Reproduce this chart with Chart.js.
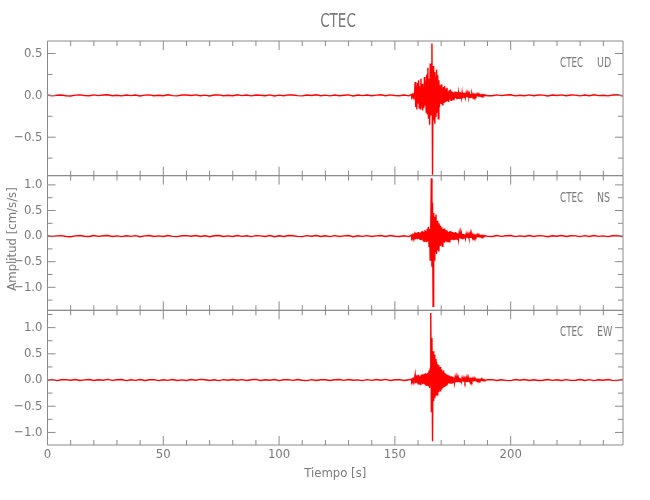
<!DOCTYPE html>
<html>
<head>
<meta charset="utf-8">
<script src="https://cdn.jsdelivr.net/npm/chart.js@4"></script>
<style>
  body { margin: 0; background: #fff; }
  canvas { display: block; }
</style>
</head>
<body>
<canvas id="sismograma" width="650" height="500"></canvas>
<script>
// estacion y componentes
const estacion = 'CTEC';
const componentes = ['UD', 'NS', 'EW'];
const marcasTiempo = [0, 50, 100, 150, 200];

// tiempo [s]: ruido previo cada 2 s, evento cada 0.25 s, coda cada 2 s
const tiempo = [
  0,2,4,6,8,10,12,14,16,18,20,22,24,26,28,30,32,34,36,38,
  40,42,44,46,48,50,52,54,56,58,60,62,64,66,68,70,72,74,76,78,
  80,82,84,86,88,90,92,94,96,98,100,102,104,106,108,110,112,114,116,118,
  120,122,124,126,128,130,132,134,136,138,140,142,144,146,148,150,152,154,156,
  157,157.25,157.5,157.75,158,158.25,158.5,158.75,
  159,159.25,159.5,159.75,160,160.25,160.5,160.75,
  161,161.25,161.5,161.75,162,162.25,162.5,162.75,
  163,163.25,163.5,163.75,164,164.25,164.5,164.75,
  165,165.25,165.5,165.75,166,166.25,166.5,166.75,
  167,167.25,167.5,167.75,168,168.25,168.5,168.75,
  169,169.25,169.5,169.75,170,170.25,170.5,170.75,
  171,171.25,171.5,171.75,172,172.25,172.5,172.75,
  173,173.25,173.5,173.75,174,174.25,174.5,174.75,
  175,175.25,175.5,175.75,176,176.25,176.5,176.75,
  177,177.25,177.5,177.75,178,178.25,178.5,178.75,
  179,179.25,179.5,179.75,180,180.25,180.5,180.75,
  181,181.25,181.5,181.75,182,182.25,182.5,182.75,
  183,183.25,183.5,183.75,184,184.25,184.5,184.75,
  185,185.25,185.5,185.75,186,186.25,186.5,186.75,
  187,187.25,187.5,187.75,188,188.25,188.5,188.75,
  190,192,194,196,198,200,202,204,206,208,210,212,214,216,218,220,
  222,224,226,228,230,232,234,236,238,240,242,244,246,248,250
];

// amplitud [cm/s/s] por componente
const ampUD = [
  0.004,-0.006,0.002,0.005,-0.004,-0.007,0.003,0.006,-0.002,-0.005,
  0.006,-0.003,0.004,0.007,-0.005,0.002,-0.006,0.004,-0.003,0.005,
  -0.007,0.003,0.006,-0.004,0.002,-0.005,0.007,-0.003,-0.006,0.004,
  0.005,-0.002,0.006,-0.005,0.003,-0.007,0.004,0.006,-0.004,0.002,
  -0.005,0.007,-0.003,0.004,-0.006,0.005,0.002,-0.004,0.006,-0.007,
  0.003,-0.005,0.006,0.004,-0.003,-0.006,0.005,-0.002,0.007,-0.004,
  0.003,-0.006,0.005,-0.004,0.002,0.006,-0.007,0.004,-0.003,0.005,
  -0.005,0.003,0.007,-0.004,0.006,-0.002,-0.005,0.004,-0.006,
  // evento
  0.008,-0.01,0.012,-0.006,0.009,-0.011,0.01,
  0.16,-0.14,0.12,-0.17,0.15,-0.09,0.18,-0.15,0.11,-0.16,
  0.2,-0.13,0.14,-0.18,0.1,-0.15,0.22,-0.12,0.17,-0.2,
  0.25,-0.22,0.33,-0.28,0.2,-0.35,0.38,-0.24,0.3,
  0.62,-0.95,
  0.35,-0.3,0.28,-0.34,0.22,-0.26,0.31,-0.2,0.24,-0.28,0.18,
  -0.14,0.12,-0.1,0.13,-0.11,0.09,-0.12,0.1,-0.08,0.11,
  -0.07,0.08,-0.06,0.09,-0.07,0.05,-0.08,0.06,-0.05,0.07,-0.06,0.05,
  -0.045,0.04,-0.05,0.035,-0.04,0.045,-0.03,0.04,-0.045,0.035,
  -0.04,0.03,-0.035,0.04,-0.03,0.035,-0.025,0.03,-0.035,0.025,
  0.02,-0.025,0.03,-0.02,0.025,-0.018,0.022,-0.025,0.02,-0.015,
  0.018,-0.022,0.015,-0.02,0.018,-0.012,
  0.012,-0.01,0.009,-0.012,0.008,-0.007,0.01,-0.006,0.008,-0.007,
  0.006,-0.008,0.005,-0.006,0.007,-0.004,0.006,-0.005,0.004,-0.006,0.005,
  // coda
  -0.004,-0.005,0.006,-0.003,0.004,0.007,-0.006,0.002,-0.005,0.006,-0.004,
  0.005,0.003,-0.007,0.004,-0.002,0.006,-0.005,0.004,0.003,-0.006,
  0.005,-0.004,0.007,-0.003,0.002,-0.006,0.004,0.008,-0.005,0.003
];

const ampNS = [
  0.007,-0.01,0.004,0.009,-0.007,-0.012,0.005,0.01,-0.004,-0.009,
  0.01,-0.005,0.007,0.012,-0.009,0.004,-0.01,0.007,-0.005,0.009,
  -0.012,0.005,0.01,-0.007,0.004,-0.009,0.012,-0.005,-0.01,0.007,
  0.009,-0.004,0.01,-0.009,0.005,-0.012,0.007,0.01,-0.007,0.004,
  -0.009,0.012,-0.005,0.007,-0.01,0.009,0.004,-0.007,0.01,-0.012,
  0.005,-0.009,0.01,0.007,-0.005,-0.01,0.009,-0.004,0.012,-0.007,
  0.005,-0.01,0.009,-0.007,0.004,0.01,-0.012,0.007,-0.005,0.009,
  -0.009,0.005,0.012,-0.007,0.01,-0.004,-0.009,0.007,-0.01,
  // evento
  0.015,-0.02,0.018,-0.015,0.02,-0.018,0.03,
  -0.05,0.07,-0.04,0.06,-0.06,0.08,-0.05,0.07,-0.07,0.06,
  -0.08,0.09,-0.06,0.1,-0.09,0.08,-0.1,0.12,-0.08,0.1,
  -0.12,0.15,-0.1,0.18,-0.2,0.14,-0.47,0.2,
  1.13,-0.6,0.65,-1.37,
  0.45,-0.47,0.38,-0.3,0.42,-0.35,0.3,-0.28,0.25,-0.3,
  0.22,-0.18,0.2,-0.15,0.17,-0.2,0.14,-0.12,0.15,-0.13,
  0.12,-0.1,0.11,-0.12,0.09,-0.1,0.08,-0.11,0.1,-0.08,0.09,-0.07,
  0.08,-0.07,0.06,-0.08,0.07,-0.06,0.08,-0.05,0.06,-0.07,
  0.05,-0.06,0.05,-0.04,0.06,-0.05,0.04,-0.05,0.04,-0.04,
  0.04,-0.035,0.03,-0.04,0.035,-0.03,0.03,-0.035,0.025,-0.03,
  0.03,-0.025,0.028,-0.022,0.025,-0.028,
  0.02,-0.018,0.016,-0.02,0.014,-0.012,0.016,-0.01,0.012,-0.014,
  0.01,-0.012,0.009,-0.011,0.01,-0.008,0.01,-0.009,0.007,-0.01,0.008,
  // coda
  -0.006,-0.009,0.01,-0.005,0.007,0.012,-0.01,0.004,-0.009,0.01,-0.007,
  0.009,0.005,-0.012,0.007,-0.004,0.01,-0.009,0.007,0.005,-0.01,
  0.009,-0.007,0.012,-0.005,0.004,-0.01,0.007,0.012,-0.009,0.005
];

const ampEW = [
  -0.006,0.009,-0.011,0.004,0.008,-0.005,0.011,-0.008,0.003,0.01,
  -0.009,0.006,-0.004,0.012,-0.007,0.005,0.009,-0.011,0.004,-0.006,
  0.01,-0.008,0.005,0.007,-0.012,0.004,-0.006,0.011,-0.009,0.003,
  -0.008,0.01,-0.005,0.012,0.006,-0.009,0.004,-0.011,0.008,-0.005,
  0.011,-0.004,0.007,-0.01,0.005,0.012,-0.008,0.006,-0.003,0.009,
  -0.011,0.005,0.008,-0.006,0.01,-0.004,-0.012,0.007,-0.009,0.005,
  0.006,-0.01,0.004,0.011,-0.007,0.009,-0.005,0.003,-0.011,0.008,
  -0.006,0.01,-0.004,0.012,-0.008,0.005,0.007,-0.01,0.004,
  // evento
  0.015,-0.02,0.018,-0.012,0.02,-0.015,0.025,
  0.1,-0.06,0.08,-0.05,0.09,-0.07,0.1,-0.06,0.07,-0.08,
  0.09,-0.06,0.11,-0.08,0.1,-0.07,0.12,-0.09,0.13,-0.1,
  0.12,-0.09,0.14,-0.12,0.18,-0.15,0.22,1.28,
  -0.6,0.8,-1.17,0.55,
  -0.4,0.48,-0.35,0.4,-0.3,0.35,-0.28,0.3,-0.22,0.28,
  -0.2,0.25,-0.22,0.2,-0.18,0.16,-0.15,0.18,-0.12,0.14,
  -0.1,0.12,-0.09,0.1,-0.08,0.09,-0.06,0.08,-0.07,0.06,-0.06,0.07,
  -0.05,0.06,-0.04,0.05,-0.05,0.04,-0.04,0.05,-0.035,0.04,
  -0.04,0.035,-0.03,0.04,-0.035,0.03,-0.03,0.035,-0.025,0.03,
  -0.03,0.025,-0.028,0.022,-0.025,0.02,-0.022,0.025,-0.018,0.02,
  -0.022,0.018,-0.02,0.016,-0.018,0.02,
  -0.016,0.014,-0.012,0.015,-0.011,0.012,-0.01,0.013,-0.009,0.011,
  -0.01,0.008,-0.011,0.009,-0.007,0.01,-0.008,0.007,-0.009,0.006,-0.008,
  // coda
  0.006,0.008,-0.01,0.005,-0.007,-0.011,0.009,-0.004,0.01,-0.008,0.006,
  -0.009,-0.005,0.011,-0.007,0.004,-0.01,0.008,-0.006,-0.004,0.01,
  -0.009,0.007,-0.012,0.005,-0.004,0.01,-0.007,-0.011,0.009,-0.005
];

// rangos de cada panel
const rangoUD = [-0.96, 0.65];
const rangoNS = [-1.45, 1.18];
const rangoEW = [-1.24, 1.33];
const rangoTiempo = [0, 248.5];

const gris = '#7a7a7a';
const rojo = '#ff0000';
const fuente = "'DejaVu Sans Condensed', 'Liberation Sans Narrow', sans-serif";
Chart.defaults.font.family = fuente;
Chart.defaults.color = gris;

function puntos(amp) {
  return tiempo.map((t, i) => ({ x: t, y: amp[i] }));
}

function serie(nombre, amp, eje) {
  return {
    label: nombre, data: puntos(amp), yAxisID: eje,
    borderColor: rojo, borderWidth: 1.4, pointRadius: 0, tension: 0, fill: false
  };
}

function ejeY(rango) {
  return {
    type: 'linear', position: 'left', stack: 'sismo', stackWeight: 1,
    min: rango[0], max: rango[1],
    grid: { display: false, drawTicks: false },
    border: { display: false },
    ticks: {
      stepSize: 0.5, includeBounds: false, autoSkip: false, padding: 5, font: { size: 13 },
      callback: v => (v < 0 ? '\u2212' : '') + Math.abs(v).toFixed(1)
    },
    afterFit: s => { s.width = 40; }
  };
}

// texto angosto, parecido a la fuente del original
function textoAngosto(ctx, texto, x, y, escala) {
  ctx.save();
  ctx.translate(x, y);
  ctx.scale(escala, 1);
  ctx.fillText(texto, 0, 0);
  ctx.restore();
}

// marco, marcas hacia adentro y textos
const marcas = {
  id: 'marcas',
  afterDraw(chart) {
    const ctx = chart.ctx;
    const x = chart.scales.x;
    const ejes = ['yUD', 'yNS', 'yEW'];
    ctx.save();
    ctx.strokeStyle = '#8a8a8a';
    ctx.lineWidth = 1;
    ejes.forEach((id, k) => {
      const y = chart.scales[id];
      ctx.beginPath();
      ctx.rect(x.left, y.top, x.right - x.left, y.bottom - y.top);
      for (let v = 0; v <= rangoTiempo[1]; v += 10) {
        const px = x.getPixelForValue(v);
        const l = v % 50 === 0 ? 9 : 5;
        ctx.moveTo(px, y.top); ctx.lineTo(px, y.top + l);
        ctx.moveTo(px, y.bottom); ctx.lineTo(px, y.bottom - l);
      }
      for (let v = Math.ceil(y.min / 0.25) * 0.25; v <= y.max; v += 0.25) {
        const py = y.getPixelForValue(v);
        const l = Math.abs(v / 0.5 - Math.round(v / 0.5)) < 1e-6 ? 8 : 5;
        ctx.moveTo(x.left, py); ctx.lineTo(x.left + l, py);
        ctx.moveTo(x.right, py); ctx.lineTo(x.right - l, py);
      }
      ctx.stroke();

      ctx.fillStyle = gris;
      ctx.font = '14px ' + fuente;
      ctx.textBaseline = 'alphabetic';
      ctx.textAlign = 'left';
      textoAngosto(ctx, estacion, 560, y.top + 26, 0.7);
      textoAngosto(ctx, componentes[k], 597, y.top + 26, 0.75);
    });

    ctx.fillStyle = gris;
    ctx.textAlign = 'center';
    ctx.textBaseline = 'middle';
    ctx.font = '20px ' + fuente;
    textoAngosto(ctx, estacion, 338, 22, 0.75);

    ctx.font = '13px ' + fuente;
    ctx.translate(13, 239);
    ctx.rotate(-Math.PI / 2);
    ctx.fillText('Amplitud [cm/s/s]', 0, 0);
    ctx.restore();
  }
};

const ctx = document.getElementById('sismograma').getContext('2d');
new Chart(ctx, {
  type: 'line',
  data: {
    datasets: [
      serie('UD', ampUD, 'yUD'),
      serie('NS', ampNS, 'yNS'),
      serie('EW', ampEW, 'yEW')
    ]
  },
  options: {
    responsive: false,
    animation: false,
    layout: { padding: { left: 7.5, right: 27, top: 41, bottom: 15 } },
    plugins: { legend: { display: false }, tooltip: { enabled: false } },
    scales: {
      x: {
        type: 'linear', min: rangoTiempo[0], max: rangoTiempo[1],
        grid: { display: false, drawTicks: false },
        border: { display: false },
        ticks: { padding: 2, font: { size: 13 } },
        afterBuildTicks: s => { s.ticks = marcasTiempo.map(v => ({ value: v })); },
        title: { display: true, text: 'Tiempo [s]', font: { size: 13 } },
        afterFit: s => { s.height = 40; }
      },
      yEW: ejeY(rangoEW),
      yNS: ejeY(rangoNS),
      yUD: ejeY(rangoUD)
    }
  },
  plugins: [marcas]
});
</script>
</body>
</html>
